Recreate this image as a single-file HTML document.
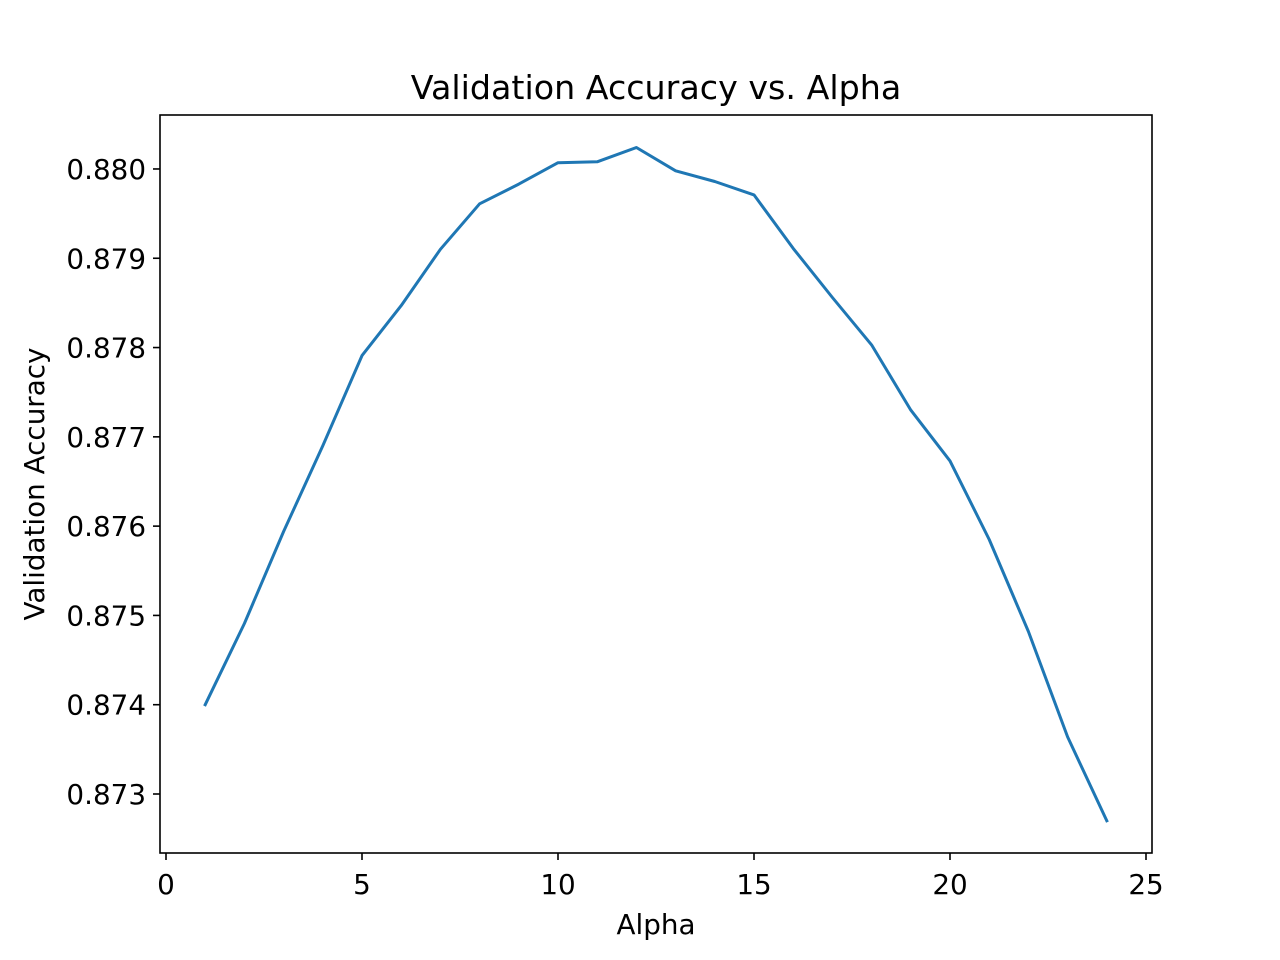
<!DOCTYPE html>
<html><head><meta charset="utf-8"><style>
html,body{margin:0;padding:0;background:#fff;}
svg{display:block;font-family:"DejaVu Sans","Liberation Sans",sans-serif;}
</style></head><body>
<svg id="chart" width="1280" height="960"></svg>
<script>
const alphas=[1,2,3,4,5,6,7,8,9,10,11,12,13,14,15,16,17,18,19,20,21,22,23,24];
const accuracy=[0.87400,0.87491,0.87594,0.87690,0.87791,0.87847,0.87910,0.87961,0.87983,0.88007,0.88008,0.88024,0.87998,0.87986,0.87971,0.87911,0.87856,0.87803,0.87730,0.87673,0.87585,0.87482,0.87364,0.87270];
const xTicks=[0,5,10,15,20,25];
const yTicks=[0.873,0.874,0.875,0.876,0.877,0.878,0.879,0.880];

const NS="http://www.w3.org/2000/svg";
const svg=document.getElementById('chart');
const L=160,R=1152,T=115,B=853;
const xs=v=>166+(v-0)*39.2;
const ys=v=>794-(v-0.873)*89290;
function mk(tag,attrs,parent){const e=document.createElementNS(NS,tag);for(const k in attrs)e.setAttribute(k,attrs[k]);(parent||svg).appendChild(e);return e;}

const frame=mk('rect',{x:L,y:T,width:R-L,height:B-T,fill:'none',stroke:'#000','stroke-width':1.6});



const xg=mk('g',{});


xTicks.forEach(t=>{
  const x=xs(t);
  const l=mk('line',{x1:x,x2:x,y1:B,y2:B+7,stroke:'#000','stroke-width':1.6},xg);
  
  
  const tx=mk('text',{x:x,y:B+41,'font-size':27.8,'text-anchor':'middle'},xg);
  tx.textContent=String(t);
  
  
});
const yg=mk('g',{});


yTicks.forEach(t=>{
  const y=ys(t);
  const l=mk('line',{x1:L-7,x2:L,y1:y,y2:y,stroke:'#000','stroke-width':1.6},yg);
  
  
  const tx=mk('text',{x:L-14,y:y+10,'font-size':27.8,'text-anchor':'end'},yg);
  tx.textContent=t.toFixed(3);
  
  
});

const pts=alphas.map((a,i)=>xs(a).toFixed(1)+','+ys(accuracy[i]).toFixed(1)).join(' ');
const line=mk('polyline',{points:pts,fill:'none',stroke:'#1f77b4','stroke-width':3,'stroke-linejoin':'round','stroke-linecap':'square'});



const title=mk('text',{x:656,y:99,'font-size':33.3,'text-anchor':'middle'});
title.textContent='Validation Accuracy vs. Alpha';


const xl=mk('text',{x:656,y:934,'font-size':27.8,'text-anchor':'middle'});
xl.textContent='Alpha';


const yl=mk('text',{x:0,y:0,'font-size':27.8,'text-anchor':'middle',transform:'translate(44,484) rotate(-90)'});
yl.textContent='Validation Accuracy';


</script>
</body></html>
